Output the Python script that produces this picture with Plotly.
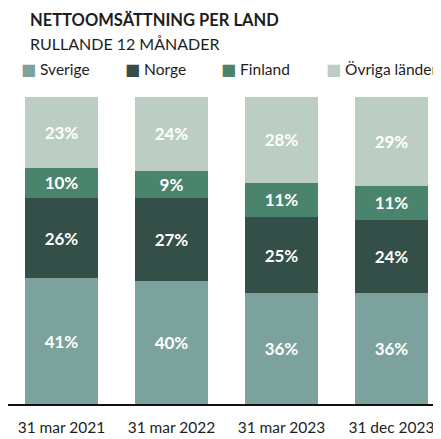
import plotly.graph_objects as go

categories = ["31 mar 2021", "31 mar 2022", "31 mar 2023", "31 dec 2023"]
series_names = ["Sverige", "Norge", "Finland", "Övriga länder"]
sverige = [41, 40, 36, 36]
norge = [26, 27, 25, 24]
finland = [10, 9, 11, 11]
ovriga = [23, 24, 28, 29]
colors = ["#7ba29c", "#344e48", "#4b846c", "#bccdc4"]
title = "NETTOOMSÄTTNING PER LAND"
subtitle = "RULLANDE 12 MÅNADER"

FONT = "Lato"
OFF = 8  # page body margin offset
W, H = 441 - OFF, 439 - OFF
T, B = 97 - OFF, 35
L, R = 0, 0
pw, ph = W - L - R, H - T - B


def px(x):
    return (x - OFF - L) / pw


def py(y):
    return (H - B - (y - OFF)) / ph


fig = go.Figure()
for name, vals, col in zip(series_names, [sverige, norge, finland, ovriga], colors):
    fig.add_trace(go.Bar(
        x=categories, y=vals, name=name, marker=dict(color=col, line=dict(width=0)),
        texttemplate="<b>%{y}%</b>", textposition="inside", insidetextanchor="middle",
        textfont=dict(family=FONT, size=17, color="white"), showlegend=False,
    ))

annotations = [
    dict(text=f"<b>{title}</b>", x=px(28), y=py(20), font=dict(size=16.5, color="#1e1e1e")),
    dict(text=subtitle, x=px(28), y=py(44), font=dict(size=16, color="#1e1e1e")),
]
legend_x = [19, 123, 219, 324]
for name, col, lx in zip(series_names, colors, legend_x):
    annotations.append(dict(
        text=f"<span style='color:{col};font-family:DejaVu Sans;font-size:16px'>■</span> {name}",
        x=px(lx), y=py(70), font=dict(size=15.5, color="#1e1e1e"),
    ))
for a in annotations:
    a.update(xref="paper", yref="paper", xanchor="left", yanchor="middle", showarrow=False)
    a["font"]["family"] = FONT

fig.update_layout(
    width=W, height=H, barmode="stack", bargap=0.336,
    margin=dict(l=L, r=R, t=T, b=B, pad=0),
    paper_bgcolor="white", plot_bgcolor="white",
    font=dict(family=FONT, size=16, color="#1e1e1e"),
    annotations=annotations,
    uniformtext=dict(minsize=8, mode="show"),
)
fig.update_xaxes(range=[-0.5 + 1.5 / 110, 3.45], showgrid=False, showline=True, linecolor="#111",
                 linewidth=2, ticks="", ticklabelstandoff=8,
                 tickfont=dict(size=15.5, color="#1e1e1e"))
fig.update_yaxes(range=[0, 100], visible=False)
fig.write_html("out.html")
